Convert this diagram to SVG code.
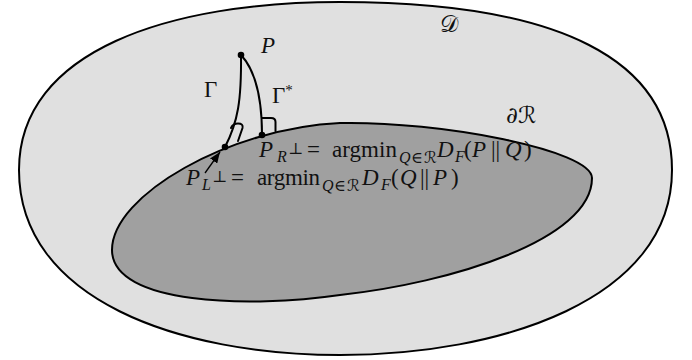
<svg xmlns="http://www.w3.org/2000/svg" width="692" height="360" viewBox="0 0 692 360">
<defs>
<style>
.region{stroke:#000;stroke-width:2;stroke-linejoin:round}
.curve{fill:none;stroke:#000;stroke-width:2;stroke-linecap:round;stroke-linejoin:round}
.t{font-family:"Liberation Serif","DejaVu Serif",serif;fill:#111;font-size:23px}
.it{font-style:italic}
.sub{font-size:16px}
.sym{font-family:"DejaVu Serif","DejaVu Sans",serif}
</style>
<marker id="ah" viewBox="0 0 10 8" refX="10" refY="4" markerWidth="11" markerHeight="9" markerUnits="userSpaceOnUse" orient="auto">
<path d="M0,0 L10,4 L0,8 Z" fill="#000"/>
</marker>
</defs>
<rect width="692" height="360" fill="#fff"/>
<g id="domain-D">
<path class="region" fill="#e0e0e0" d="M340,2 C560,2 672,60 672,170 C672,300 500,355 340,355 C180,355 19,300 19,170 C19,50 170,2 340,2 Z"/>
</g>
<g id="region-R">
<path class="region" fill="#a0a0a0" d="M112,250 C112,195 230,128 340,123 C440,121 592,150 592,178 C592,240 450,283 340,295 C250,308 112,305 112,250 Z"/>
</g>
<g id="connectors">
<path class="curve" d="M241,55 C241.5,100 238,122 225,147"/>
<path class="curve" d="M241,55 C255,70 262,95 262,135"/>
<path class="curve" stroke-width="1.8" d="M231,128 Q233,123.5 238,123.5 Q243.5,123.5 242.5,128 L238,141"/>
<path class="curve" stroke-width="1.8" d="M262,118 L271,118 Q275.5,118 275.5,122 L275.5,131"/>
<line x1="205" y1="173" x2="220" y2="152" stroke="#000" stroke-width="1.3" marker-end="url(#ah)"/>
</g>
<g id="node-P">
<circle cx="241" cy="55" r="3.3" fill="#000"/>
<text class="t it" x="261" y="53">P</text>
</g>
<g id="node-PR">
<circle cx="262" cy="135" r="3.3" fill="#000"/>
<text class="t" y="157"><tspan class="it" x="259">P</tspan><tspan class="it sub" x="277" y="162">R</tspan><tspan class="sym" x="288" y="154" font-size="16">⊥</tspan><tspan x="307" y="157">=</tspan><tspan x="332" textLength="65">argmin</tspan><tspan class="it sub" x="399" y="163">Q</tspan><tspan class="sym sub" x="411">∈</tspan><tspan class="sym sub" x="424">ℛ</tspan><tspan class="it" x="437" y="157">D</tspan><tspan class="it sub" x="455" y="162">F</tspan><tspan x="464" y="157">(</tspan><tspan class="it" x="472">P</tspan><tspan x="491">||</tspan><tspan class="it" x="505">Q</tspan><tspan x="524">)</tspan></text>
</g>
<g id="node-PL">
<circle cx="225" cy="147" r="3.3" fill="#000"/>
<text class="t" y="185"><tspan class="it" x="186">P</tspan><tspan class="it sub" x="202" y="190">L</tspan><tspan class="sym" x="212" y="182" font-size="16">⊥</tspan><tspan x="231" y="185">=</tspan><tspan x="257" textLength="63">argmin</tspan><tspan class="it sub" x="322" y="191">Q</tspan><tspan class="sym sub" x="334">∈</tspan><tspan class="sym sub" x="347">ℛ</tspan><tspan class="it" x="362" y="185">D</tspan><tspan class="it sub" x="381" y="190">F</tspan><tspan x="391" y="185">(</tspan><tspan class="it" x="400">Q</tspan><tspan x="420">||</tspan><tspan class="it" x="433">P</tspan><tspan x="451">)</tspan></text>
</g>
<g id="labels">
<text class="t" x="204" y="97">Γ</text>
<text class="t" x="272" y="103">Γ<tspan font-size="15" y="95">*</tspan></text>
<text class="t sym" x="440" y="32" font-size="20">𝒟</text>
<text class="t sym" x="506" y="123" font-size="22">∂ℛ</text>
</g>
</svg>
